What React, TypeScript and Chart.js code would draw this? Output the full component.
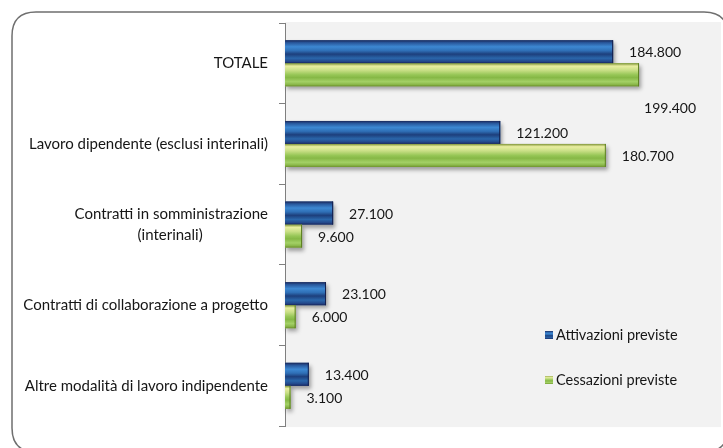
import { useEffect, useRef } from "react";
import { Chart, registerables } from "chart.js";

Chart.register(...registerables);

// ---------- data ----------
const categories: (string | string[])[] = [
  "TOTALE",
  "Lavoro dipendente (esclusi interinali)",
  ["Contratti in somministrazione", "(interinali)"],
  "Contratti di collaborazione a progetto",
  "Altre modalità di lavoro indipendente",
];
const attivazioni = [184800, 121200, 27100, 23100, 13400];
const cessazioni = [199400, 180700, 9600, 6000, 3100];
const seriesLabels = ["Attivazioni previste", "Cessazioni previste"];
const xMax = 245000;

// ---------- styles ----------
const FONT = "Lato, 'Liberation Sans', sans-serif";
const TEXT = "#161616";
const LABEL_GAP = 16;
// label nudges (dataset index, data index) -> dx, dy (Excel placed one label off the bar)
const labelNudge: Record<string, [number, number]> = { "1-0": [-11, 33] };

const blueStops: [number, string][] = [
  [0, "#1a2758"],
  [0.1, "#28569a"],
  [0.28, "#3d88d2"],
  [0.45, "#2f6fb6"],
  [0.6, "#1d3f7c"],
  [0.78, "#2a66aa"],
  [0.92, "#23478a"],
  [1, "#18245a"],
];
const greenStops: [number, string][] = [
  [0, "#7f9438"],
  [0.12, "#e9eea0"],
  [0.3, "#c9df86"],
  [0.5, "#96c656"],
  [0.62, "#86b846"],
  [0.8, "#a3d066"],
  [0.92, "#8ab84a"],
  [1, "#6c8f2c"],
];
const seriesStops = [blueStops, greenStops];
const seriesEdge = ["#16204e", "#5d7f22"];
const seriesSolid = ["#2a5ca0", "#9bc75a"];

const fmt = (n: number) => String(n).replace(/\B(?=(\d{3})+(?!\d))/g, ".");

let measureCtx: CanvasRenderingContext2D | null = null;
function centerLines(lines: string[], font: string): string[] {
  if (!measureCtx) measureCtx = document.createElement("canvas").getContext("2d");
  const m = measureCtx!;
  m.font = font;
  const widths = lines.map((l) => m.measureText(l).width);
  const maxW = Math.max(...widths);
  const sp = m.measureText(" ").width || 3;
  return lines.map((l, i) => l + " ".repeat(Math.round((maxW - widths[i]) / 2 / sp)));
}

function barRect(el: any) {
  const p = el.getProps(["x", "y", "base", "height"], true);
  const left = Math.min(p.base, p.x);
  const w = Math.abs(p.x - p.base);
  const top = p.y - p.height / 2;
  return { left, top, w, h: p.height, end: Math.max(p.base, p.x), cy: p.y };
}

function gradFor(ctx: CanvasRenderingContext2D, top: number, h: number, stops: [number, string][]) {
  const g = ctx.createLinearGradient(0, top, 0, top + h);
  stops.forEach(([o, c]) => g.addColorStop(o, c));
  return g;
}

const framePlugin = {
  id: "frame",
  beforeDraw(chart: any) {
    const { ctx, width, height, chartArea } = chart;
    ctx.save();
    ctx.fillStyle = "#ffffff";
    ctx.fillRect(0, 0, width, height);
    // rounded outer frame
    const x0 = 12, y0 = 12, x1 = width + 5, y1 = height + 4, r = 24;
    ctx.beginPath();
    ctx.moveTo(x0 + r, y0);
    ctx.lineTo(x1 - r, y0);
    ctx.quadraticCurveTo(x1, y0, x1, y0 + r);
    ctx.lineTo(x1, y1 - r);
    ctx.quadraticCurveTo(x1, y1, x1 - r, y1);
    ctx.lineTo(x0 + r, y1);
    ctx.quadraticCurveTo(x0, y1, x0, y1 - r);
    ctx.lineTo(x0, y0 + r);
    ctx.quadraticCurveTo(x0, y0, x0 + r, y0);
    ctx.closePath();
    ctx.strokeStyle = "#6f6f6f";
    ctx.lineWidth = 1.5;
    ctx.stroke();
    // plot area
    ctx.fillStyle = "#f2f2f2";
    ctx.fillRect(chartArea.left, chartArea.top - 1, chartArea.right - chartArea.left + 1, chartArea.bottom - chartArea.top + 2);
    ctx.restore();
  },
};

const barStylePlugin = {
  id: "barStyle",
  beforeDatasetsDraw(chart: any) {
    const ctx = chart.ctx;
    ctx.save();
    chart.data.datasets.forEach((_d: any, di: number) => {
      chart.getDatasetMeta(di).data.forEach((el: any) => {
        const r = barRect(el);
        ctx.shadowColor = "rgba(0,0,0,0.35)";
        ctx.shadowBlur = 4;
        ctx.shadowOffsetX = 2;
        ctx.shadowOffsetY = 3;
        ctx.fillStyle = "rgba(160,160,160,1)";
        ctx.fillRect(r.left, r.top, r.w, r.h);
      });
    });
    ctx.restore();
  },
  afterDatasetsDraw(chart: any) {
    const ctx = chart.ctx;
    ctx.save();
    chart.data.datasets.forEach((ds: any, di: number) => {
      chart.getDatasetMeta(di).data.forEach((el: any, i: number) => {
        const r = barRect(el);
        ctx.fillStyle = gradFor(ctx, r.top, r.h, seriesStops[di]);
        ctx.fillRect(r.left, r.top, r.w, r.h);
        ctx.strokeStyle = seriesEdge[di];
        ctx.lineWidth = 1;
        ctx.beginPath();
        ctx.moveTo(r.end - 0.5, r.top);
        ctx.lineTo(r.end - 0.5, r.top + r.h);
        ctx.stroke();
        // value label
        const nudge = labelNudge[`${di}-${i}`] || [0, 0];
        ctx.fillStyle = TEXT;
        ctx.font = `14px ${FONT}`;
        ctx.textAlign = "left";
        ctx.textBaseline = "middle";
        ctx.fillText(fmt(ds.data[i]), r.end + LABEL_GAP + nudge[0], r.cy + 1 + nudge[1]);
      });
    });
    ctx.restore();
  },
};

const legendPlugin = {
  id: "insideLegend",
  afterDraw(chart: any) {
    const { ctx, chartArea } = chart;
    ctx.save();
    const x = chartArea.left + 260;
    const ys = [chartArea.top + 312, chartArea.top + 357];
    chart.data.datasets.forEach((ds: any, di: number) => {
      const y = ys[di];
      ctx.fillStyle = gradFor(ctx, y - 4, 8, seriesStops[di]);
      ctx.fillRect(x, y - 4, 8, 8);
      ctx.fillStyle = TEXT;
      ctx.font = `14.5px ${FONT}`;
      ctx.textAlign = "left";
      ctx.textBaseline = "middle";
      ctx.fillText(ds.label, x + 11, y);
    });
    ctx.restore();
  },
};

export default function App() {
  const ref = useRef<HTMLCanvasElement | null>(null);
  useEffect(() => {
    if (!ref.current) return;
    const tickFont = `15px ${FONT}`;
    const chart = new Chart(ref.current, {
      type: "bar",
      data: {
        labels: categories as any,
        datasets: [
          { label: seriesLabels[0], data: attivazioni, backgroundColor: seriesSolid[0], borderWidth: 0 },
          { label: seriesLabels[1], data: cessazioni, backgroundColor: seriesSolid[1], borderWidth: 0 },
        ],
      },
      options: {
        indexAxis: "y",
        animation: false,
        responsive: false,
        maintainAspectRatio: false,
        events: [],
        layout: { padding: { left: 0, top: 23, right: 3, bottom: 18 } },
        datasets: { bar: { categoryPercentage: 0.57, barPercentage: 1 } } as any,
        plugins: { legend: { display: false }, tooltip: { enabled: false }, title: { display: false } },
        scales: {
          x: { display: false, min: 0, max: xMax },
          y: {
            offset: true,
            grid: { display: true, drawOnChartArea: false, drawTicks: true, tickLength: 6, color: "#7f7f7f", offset: true },
            border: { display: true, color: "#7f7f7f", width: 1 },
            ticks: {
              padding: 11,
              color: TEXT,
              autoSkip: false,
              font: { family: FONT, size: 15, lineHeight: 1.45 },
              callback: function (_v: any, index: number) {
                const l = categories[index];
                return Array.isArray(l) ? centerLines(l, tickFont) : l;
              },
            },
            afterFit: (s: any) => {
              s.width = 285;
            },
          },
        },
      },
      plugins: [framePlugin, barStylePlugin, legendPlugin],
    });
    return () => chart.destroy();
  }, []);
  return (
    <div style={{ position: "fixed", left: 0, top: 0, width: 723, height: 448, background: "#fff" }}>
      <canvas ref={ref} width={723} height={448} style={{ width: 723, height: 448, display: "block" }} />
    </div>
  );
}
